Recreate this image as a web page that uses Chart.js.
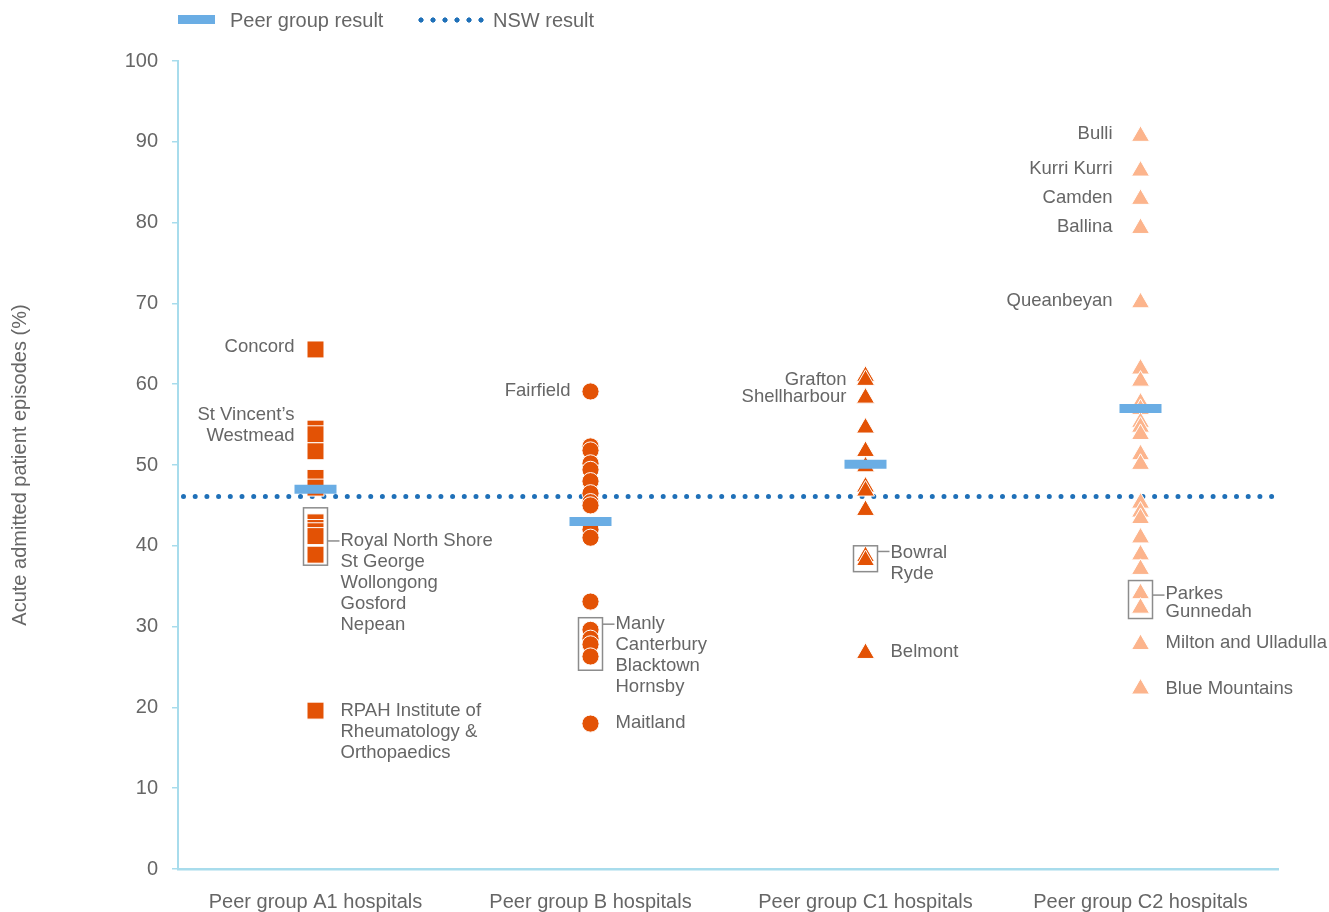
<!DOCTYPE html>
<html>
<head>
<meta charset="utf-8">
<script src="https://cdn.jsdelivr.net/npm/chart.js@4.4.0/dist/chart.umd.min.js"></script>
<style>
  body { margin: 0; background: #fff; font-family: 'Liberation Sans', Arial, sans-serif; }
  #wrap { position: relative; width: 1329px; height: 912px; }
  .lg { position: absolute; top: 8px; font-size: 20px; line-height: 24px; color: #666; }
  .swatch-bar { position: absolute; left: 178px; top: 15px; width: 37px; height: 9px; background: #6aade4; }
  .swatch-dots { position: absolute; left: 415px; top: 17px; width: 72px; height: 6px;
    background: radial-gradient(circle, #1f70b8 2.3px, transparent 2.9px) 0 0 / 12px 6px repeat-x; }
</style>
</head>
<body>
<div id="wrap">
  <div class="swatch-bar"></div>
  <div class="lg" style="left:230px">Peer group result</div>
  <div class="swatch-dots"></div>
  <div class="lg" style="left:493px">NSW result</div>
  <canvas id="chart"></canvas>
</div>
<script>
// category labels along the bottom
const groups = ['Peer group A1 hospitals', 'Peer group B hospitals', 'Peer group C1 hospitals', 'Peer group C2 hospitals'];
const groupPos = [0.5, 1.5, 2.5, 3.5];

// hospital results, % of acute admitted patient episodes
const a1Values = [64.3, 54.5, 53.8, 51.7, 48.4, 47.2, 42.9, 42.2, 41.8, 41.2, 38.9, 19.6];
const bValues = [59.1, 52.3, 51.8, 50.2, 49.4, 48.0, 46.5, 45.4, 45.0, 42.0, 41.0, 33.1, 29.6, 28.5, 27.8, 26.3, 18.0];
const c1Values = [61.0, 60.5, 58.3, 54.6, 51.7, 49.8, 47.3, 46.8, 44.4, 38.7, 38.2, 26.7];
const c2Values = [90.7, 86.4, 82.9, 79.3, 70.1, 61.9, 60.4, 57.7, 56.9, 55.3, 54.7, 53.8, 51.3, 50.1,
  45.3, 44.2, 43.4, 41.0, 38.9, 37.1, 34.1, 32.3, 27.8, 22.3];
const peerResults = [47.0, 43.0, 50.1, 57.0];
const nswResult = 46.1;

// hospital names: [group, value, text]
const leftLabels = [
  [0, 64.6, 'Concord'], [0, 56.2, 'St Vincent’s'], [0, 53.6, 'Westmead'],
  [1, 59.2, 'Fairfield'],
  [2, 60.5, 'Grafton'], [2, 58.4, 'Shellharbour'],
  [3, 91.0, 'Bulli'], [3, 86.6, 'Kurri Kurri'], [3, 83.0, 'Camden'], [3, 79.5, 'Ballina'], [3, 70.3, 'Queanbeyan']
];
const rightLabels = [
  [0, 40.6, ['Royal North Shore', 'St George', 'Wollongong', 'Gosford', 'Nepean']],
  [0, 19.6, ['RPAH Institute of', 'Rheumatology &', 'Orthopaedics']],
  [1, 30.3, ['Manly', 'Canterbury', 'Blacktown', 'Hornsby']],
  [1, 18.1, ['Maitland']],
  [2, 39.1, ['Bowral', 'Ryde']],
  [2, 26.9, ['Belmont']],
  [3, 34.0, ['Parkes']], [3, 31.8, ['Gunnedah']],
  [3, 28.0, ['Milton and Ulladulla']],
  [3, 22.3, ['Blue Mountains']]
];
// bracket boxes: [group, top, bottom, link line value]
const boxes = [[0, 44.7, 37.6, 40.6], [1, 31.1, 24.6, 30.3], [2, 40.0, 36.8, 39.3], [3, 35.7, 31.0, 33.9]];
const leftGap = [21, 20, 19, 28];

const textColor = '#666';
const axisColor = '#a8dcec';
const dark = '#e35205';
const light = '#fcb48c';
const font = "'Liberation Sans', Arial, sans-serif";

const pts = (g, vals) => vals.map(v => ({ x: groupPos[g], y: v }));

const annotate = {
  id: 'annotate',
  afterDatasetsDraw(chart) {
    const { ctx, scales: { x, y } } = chart;
    ctx.save();
    ctx.font = '18.5px ' + font;
    ctx.fillStyle = textColor;
    ctx.textBaseline = 'middle';
    ctx.textAlign = 'right';
    leftLabels.forEach(([g, v, t]) => {
      ctx.fillText(t, x.getPixelForValue(groupPos[g]) - leftGap[g], y.getPixelForValue(v));
    });
    ctx.textAlign = 'left';
    rightLabels.forEach(([g, v, lines]) => {
      lines.forEach((t, i) => ctx.fillText(t, x.getPixelForValue(groupPos[g]) + 25, y.getPixelForValue(v) + i * 21));
    });
    ctx.strokeStyle = '#8c8c8c';
    ctx.lineWidth = 1.5;
    boxes.forEach(([g, top, bottom, link]) => {
      const cx = x.getPixelForValue(groupPos[g]);
      const t = y.getPixelForValue(top), b = y.getPixelForValue(bottom), ly = y.getPixelForValue(link);
      ctx.strokeRect(cx - 12, t, 24, b - t);
      ctx.beginPath();
      ctx.moveTo(cx + 12, ly);
      ctx.lineTo(cx + 24, ly);
      ctx.stroke();
    });
    ctx.restore();
  }
};

const marker = (g, vals, style, color, r) => ({
  type: 'scatter', data: pts(g, vals), order: 2,
  pointStyle: style, pointRadius: r, pointBackgroundColor: color,
  pointBorderColor: '#fff', pointBorderWidth: 1
});

new Chart(document.getElementById('chart'), {
  data: {
    datasets: [
      {
        type: 'line', order: 3, clip: false,
        data: [{ x: 0.02, y: nswResult }, { x: 3.98, y: nswResult }],
        borderColor: '#1f70b8', borderWidth: 5, borderDash: [0, 11.7], borderCapStyle: 'round',
        pointRadius: 0
      },
      marker(0, a1Values, 'rect', dark, 12),
      marker(1, bValues, 'circle', dark, 8.6),
      marker(2, c1Values, 'triangle', dark, 10.4),
      marker(3, c2Values, 'triangle', light, 10.4),
      {
        type: 'scatter', order: 1,
        data: peerResults.map((v, i) => ({ x: groupPos[i], y: v })),
        pointStyle: 'line', pointRadius: 21, pointBorderWidth: 9, pointBorderColor: '#6aade4'
      }
    ]
  },
  options: {
    responsive: true,
    maintainAspectRatio: false,
    animation: false,
    events: [],
    layout: { padding: { top: 61, right: 51, left: 0, bottom: 0 } },
    plugins: { legend: { display: false }, tooltip: { enabled: false } },
    scales: {
      x: {
        type: 'linear', min: 0, max: 4,
        afterBuildTicks: s => { s.ticks = groupPos.map(v => ({ value: v })); },
        afterFit: s => { s.height = 43; },
        grid: { drawOnChartArea: false, drawTicks: false },
        border: { color: axisColor, width: 2.5 },
        ticks: { padding: 21, color: textColor, font: { family: font, size: 20 },
          callback: (v, i) => groups[i] }
      },
      y: {
        min: 0, max: 100,
        afterFit: s => { s.width = 178; },
        grid: { drawOnChartArea: false, drawTicks: true, tickLength: 6, color: axisColor, lineWidth: 1.5 },
        border: { color: axisColor, width: 2 },
        ticks: { stepSize: 10, padding: 14, color: textColor, font: { family: font, size: 20 } },
        title: { display: true, text: 'Acute admitted patient episodes (%)', color: textColor,
          font: { family: font, size: 20 }, padding: { top: 8 } }
      }
    }
  },
  plugins: [annotate]
});
</script>
</body>
</html>
